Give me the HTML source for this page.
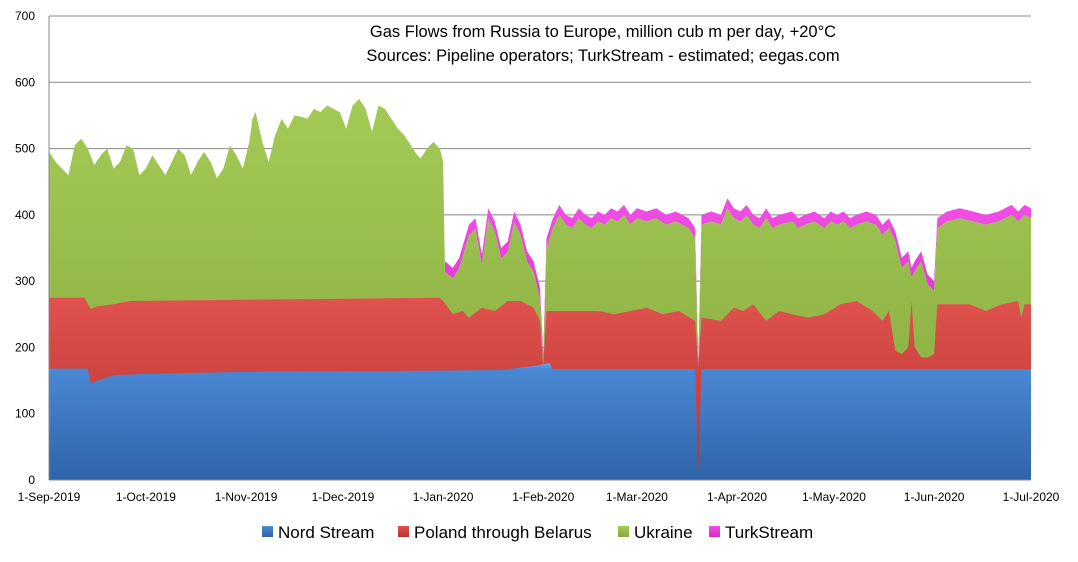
<!DOCTYPE html>
<html><head><meta charset="utf-8"><style>
body{margin:0;background:#fff;width:1078px;height:557px;overflow:hidden}
svg text{font-family:"Liberation Sans",Arial,sans-serif}
</style></head><body>
<svg id="s" width="1078" height="557" xmlns="http://www.w3.org/2000/svg">
<defs>
<linearGradient id="gb" x1="0" y1="0" x2="0" y2="1"><stop offset="0" stop-color="#6aa8ea"/><stop offset="0.05" stop-color="#4a88d4"/><stop offset="1" stop-color="#2f64a8"/></linearGradient>
<linearGradient id="gr" x1="0" y1="0" x2="0" y2="1"><stop offset="0" stop-color="#e0524e"/><stop offset="1" stop-color="#b8342f"/></linearGradient>
<linearGradient id="gg" x1="0" y1="0" x2="0" y2="1"><stop offset="0" stop-color="#a4ca56"/><stop offset="1" stop-color="#86aa3e"/></linearGradient>
<linearGradient id="gm" x1="0" y1="0" x2="0" y2="1"><stop offset="0" stop-color="#f24fe6"/><stop offset="1" stop-color="#d22ec8"/></linearGradient>
</defs>
<g id="grid"></g>
<g id="areas"></g>
<line x1="49" y1="480" x2="1031" y2="480" stroke="#888"/>
<line x1="49" y1="16" x2="49" y2="480" stroke="#888"/>
<g id="lab" font-size="12" fill="#000"></g>
<text x="603" y="37" font-size="16.5" text-anchor="middle">Gas Flows from Russia to Europe, million cub m per day, +20°C</text>
<text x="603" y="61" font-size="16.5" text-anchor="middle">Sources: Pipeline operators; TurkStream - estimated; eegas.com</text>
<g font-size="17">
<rect x="262" y="526" width="11" height="11" fill="url(#gb)"/><text x="278" y="538">Nord Stream</text>
<rect x="398" y="526" width="11" height="11" fill="url(#gr)"/><text x="414" y="538">Poland through Belarus</text>
<rect x="618" y="526" width="11" height="11" fill="url(#gg)"/><text x="634" y="538">Ukraine</text>
<rect x="709" y="526" width="11" height="11" fill="url(#gm)"/><text x="725" y="538">TurkStream</text>
</g>
</svg>
<script>
var X=function(d){return 49+d*982/304},Y=function(v){return 480-v*464/700};
var blue=[[0,168],[12,168],[13,145],[15,150],[20,158],[30,160],[60,163],[120,165],[140,166],[150,172],[155,176],[156,167],[200,167],[201,10],[202,167],[304,167]];
var red=[[0,275],[11,275],[12,265],[13,258],[15,262],[20,265],[25,270],[121,275],[122,270],[125,250],[128,255],[130,245],[134,260],[138,255],[142,270],[146,270],[150,260],[152,240],[153,170],[154,255],[170,255],[175,250],[180,255],[185,260],[190,250],[195,255],[200,240],[201,170],[202,245],[208,240],[212,260],[215,255],[218,265],[222,240],[226,255],[230,250],[235,245],[240,250],[245,265],[250,270],[255,255],[258,240],[260,255],[262,195],[264,190],[266,200],[267,270],[268,200],[270,185],[272,185],[274,190],[275,265],[285,265],[290,255],[295,265],[300,270],[301,245],[302,265],[304,265]];
var tot=[[0,495],[2,480],[4,470],[6,460],[8,505],[10,515],[12,500],[14,475],[16,490],[18,500],[20,470],[22,480],[24,505],[26,500],[28,460],[30,470],[32,490],[34,475],[36,460],[38,480],[40,500],[42,490],[44,460],[46,480],[48,495],[50,480],[52,455],[54,470],[56,505],[58,490],[60,470],[62,510],[63,545],[64,555],[66,510],[68,480],[70,520],[72,545],[74,530],[76,550],[78,548],[80,545],[82,560],[84,555],[86,565],[88,560],[90,555],[92,530],[94,565],[96,575],[98,560],[100,525],[102,565],[104,560],[106,545],[108,530],[110,520],[112,505],[114,490],[115,485],[117,500],[119,510],[121,500],[122,480],[122.6,330],[125,320],[127,335],[130,385],[132,395],[134,340],[136,410],[138,390],[140,350],[142,360],[144,405],[146,385],[148,345],[150,330],[152,290],[153,190],[154,365],[156,395],[158,415],[160,400],[162,395],[164,410],[166,400],[168,395],[170,405],[172,400],[174,410],[176,405],[178,415],[180,400],[182,410],[185,405],[188,410],[191,400],[194,405],[198,395],[200,380],[201,180],[202,400],[205,405],[208,400],[210,425],[212,410],[214,405],[216,415],[218,400],[220,395],[222,410],[224,395],[226,400],[230,405],[232,395],[234,400],[237,405],[240,395],[242,405],[244,400],[246,405],[248,395],[250,400],[253,405],[256,400],[258,385],[260,395],[262,375],[264,335],[266,345],[267,320],[268,330],[270,345],[272,310],[274,300],[275,395],[278,405],[282,410],[286,405],[290,400],[294,405],[298,415],[300,405],[302,415],[304,410]];
function ts(d){return d<122.5?0:(d<153||d>200&&d<202?16:15)}
var green=tot.map(function(p){return [p[0],p[0]<122.5?p[1]:p[1]-ts(p[0])]});
function line(a){return a.map(function(p){return X(p[0]).toFixed(1)+","+Y(p[1]).toFixed(1)}).join(" L")}
function area(top,bot,fill){
 var d="M"+line(top);
 if(bot){d+=" L"+line(bot.slice().reverse());}else{d+=" L"+X(304)+","+Y(0)+" L"+X(0)+","+Y(0);}
 return '<path d="'+d+' Z" fill="url(#'+fill+')"/>';
}
var g='';
for(var v=100;v<=700;v+=100)g+='<line x1="49" x2="1031" y1="'+Y(v)+'" y2="'+Y(v)+'" stroke="#888" stroke-width="1"/>';
document.getElementById('grid').innerHTML=g;
var tsTop=tot.filter(function(p){return p[0]>=122.5});
var tsBot=green.filter(function(p){return p[0]>=122.5});
document.getElementById('areas').innerHTML=area(tsTop,tsBot,'gm')+area(green,null,'gg')+area(red,null,'gr')+area(blue,null,'gb');
var l='';
for(var v=0;v<=700;v+=100)l+='<text x="35" y="'+(Y(v)+4)+'" text-anchor="end">'+v+'</text>';
var dl=[[0,'1-Sep-2019'],[30,'1-Oct-2019'],[61,'1-Nov-2019'],[91,'1-Dec-2019'],[122,'1-Jan-2020'],[153,'1-Feb-2020'],[182,'1-Mar-2020'],[213,'1-Apr-2020'],[243,'1-May-2020'],[274,'1-Jun-2020'],[304,'1-Jul-2020']];
dl.forEach(function(p){l+='<text x="'+X(p[0])+'" y="501" text-anchor="middle">'+p[1]+'</text>'});
document.getElementById('lab').innerHTML=l;
</script>
</body></html>
